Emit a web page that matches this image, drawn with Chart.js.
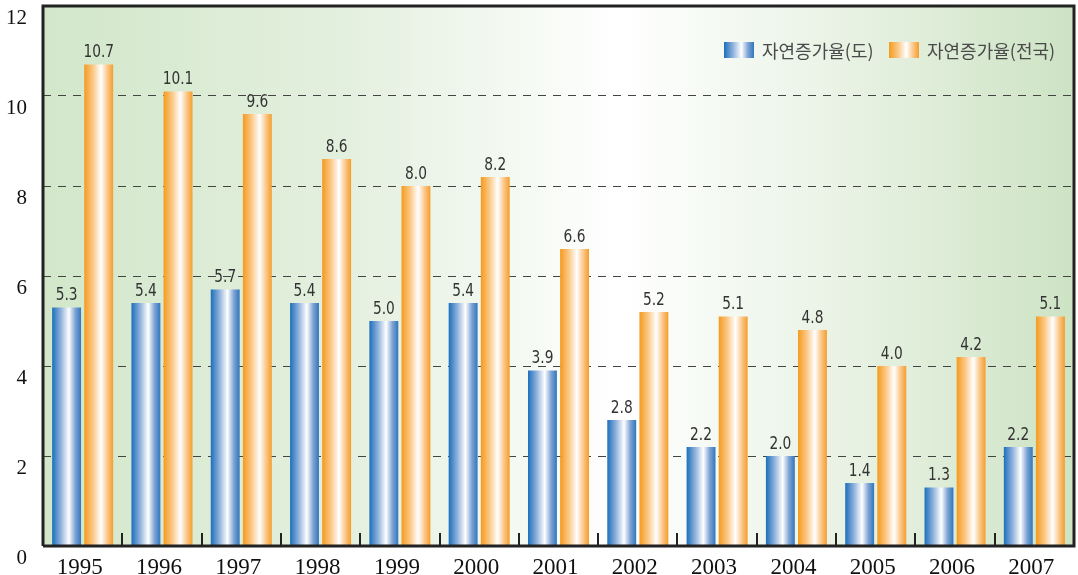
<!DOCTYPE html>
<html>
<head>
<meta charset="utf-8">
<script src="https://cdn.jsdelivr.net/npm/chart.js@4/dist/chart.umd.min.js"></script>
<style>
  html, body { margin: 0; padding: 0; background: #fff; }
  #wrap { width: 1078px; height: 575px; }
</style>
</head>
<body>
<div id="wrap"><canvas id="chart"></canvas></div>
<script>
const years = ['1995','1996','1997','1998','1999','2000','2001','2002','2003','2004','2005','2006','2007'];
const provinceRate = [5.3, 5.4, 5.7, 5.4, 5.0, 5.4, 3.9, 2.8, 2.2, 2.0, 1.4, 1.3, 2.2];
const nationalRate = [10.7, 10.1, 9.6, 8.6, 8.0, 8.2, 6.6, 5.2, 5.1, 4.8, 4.0, 4.2, 5.1];
const seriesNames = ['자연증가율(도)', '자연증가율(전국)'];
const yTicks = [0, 2, 4, 6, 8, 10, 12];

const CAT_PCT = 0.81;
const BAR_PCT = 0.9;

const blueStops = ['#1b6fbb', '#8fb1dc', '#ffffff', '#7ea3d3', '#2f76bd'];
const orangeStops = ['#f59a1e', '#fbc886', '#ffffff', '#fbc78a', '#f59d2a'];

function makeGrad(ctx, x0, x1, stops) {
  const g = ctx.createLinearGradient(x0, 0, x1, 0);
  g.addColorStop(0, stops[0]);
  g.addColorStop(0.3, stops[1]);
  g.addColorStop(0.58, stops[2]);
  g.addColorStop(0.8, stops[3]);
  g.addColorStop(1, stops[4]);
  return g;
}

// gradient spanning each bar, worked out from the x scale
function barGrad(c, stops) {
  const chart = c.chart;
  const xs = chart.scales.x;
  if (!xs || c.dataIndex === undefined) return stops[0];
  const catW = (xs.width / years.length) * CAT_PCT;
  const slot = catW / 2;
  const cx = xs.getPixelForValue(c.dataIndex) - catW / 2 + slot * (c.datasetIndex + 0.5);
  const w = slot * BAR_PCT;
  if (!isFinite(cx) || !isFinite(w) || w <= 0) return stops[0];
  return makeGrad(chart.ctx, cx - w / 2, cx + w / 2, stops);
}

const bgPlugin = {
  id: 'bg',
  beforeDraw(chart) {
    const { ctx, chartArea: a } = chart;
    const g = ctx.createLinearGradient(a.left, 0, a.right, 0);
    g.addColorStop(0, '#d2e7ca');
    g.addColorStop(0.3, '#e4f0df');
    g.addColorStop(0.56, '#ffffff');
    g.addColorStop(0.8, '#e6f1e1');
    g.addColorStop(1, '#cde3c4');
    ctx.save();
    ctx.fillStyle = g;
    ctx.fillRect(a.left, a.top, a.right - a.left, a.bottom - a.top);
    ctx.restore();
  }
};

const framePlugin = {
  id: 'frame',
  afterDatasetsDraw(chart) {
    const { ctx, chartArea: a } = chart;
    ctx.save();
    // value labels, squeezed a bit to look condensed
    ctx.fillStyle = '#333';
    ctx.font = '18px "Liberation Sans Narrow", "DejaVu Sans Condensed", sans-serif';
    ctx.textAlign = 'center';
    ctx.textBaseline = 'bottom';
    chart.data.datasets.forEach((ds, di) => {
      chart.getDatasetMeta(di).data.forEach((el, i) => {
        ctx.save();
        ctx.translate(el.x, el.y - 3);
        ctx.scale(0.85, 1);
        ctx.fillText(ds.data[i].toFixed(1), 0, 0);
        ctx.restore();
      });
    });
    // category ticks inside the plot
    ctx.strokeStyle = '#222';
    ctx.lineWidth = 2;
    const step = (a.right - a.left) / years.length;
    for (let i = 1; i < years.length; i++) {
      const x = Math.round(a.left + step * i);
      ctx.beginPath();
      ctx.moveTo(x, a.bottom);
      ctx.lineTo(x, a.bottom - 13);
      ctx.stroke();
    }
    // frame
    ctx.lineWidth = 3;
    ctx.beginPath();
    ctx.moveTo(a.left, a.bottom);
    ctx.lineTo(a.left, a.top);
    ctx.lineTo(a.right, a.top);
    ctx.lineTo(a.right, a.bottom);
    ctx.lineTo(a.left, a.bottom);
    ctx.stroke();
    ctx.restore();
  }
};

new Chart(document.getElementById('chart'), {
  type: 'bar',
  data: {
    labels: years,
    datasets: [
      {
        label: seriesNames[0],
        data: provinceRate,
        backgroundColor: c => barGrad(c, blueStops),
        categoryPercentage: CAT_PCT,
        barPercentage: BAR_PCT
      },
      {
        label: seriesNames[1],
        data: nationalRate,
        backgroundColor: c => barGrad(c, orangeStops),
        categoryPercentage: CAT_PCT,
        barPercentage: BAR_PCT
      }
    ]
  },
  options: {
    responsive: true,
    maintainAspectRatio: false,
    animation: false,
    layout: { padding: { top: 6, right: 4, left: 0, bottom: 0 } },
    plugins: {
      legend: { display: false },
      tooltip: { enabled: false }
    },
    scales: {
      x: {
        grid: { display: false },
        border: { display: false },
        ticks: {
          color: '#111',
          font: { family: '"Liberation Serif", "DejaVu Serif", serif', size: 23 },
          padding: 0,
          labelOffset: -3
        },
        afterFit(s) { s.height = 29; s.paddingLeft = 0; s.paddingRight = 0; }
      },
      y: {
        min: 0,
        max: 12,
        afterBuildTicks(s) { s.ticks = yTicks.map(v => ({ value: v })); },
        grid: {
          color: c => (c.tick && (c.tick.value === 0 || c.tick.value === 12)) ? 'rgba(0,0,0,0)' : '#444',
          lineWidth: 1,
          drawTicks: false
        },
        border: { display: false, dash: [8, 7] },
        ticks: {
          color: '#111',
          font: { family: '"Liberation Serif", "DejaVu Serif", serif', size: 21 },
          padding: 16,
          labelOffset: 12
        },
        afterFit(s) { s.width = 43; s.paddingTop = 0; s.paddingBottom = 0; }
      }
    }
  },
  plugins: [bgPlugin, framePlugin, {
    id: 'legendBox',
    afterDraw(chart) {
      const ctx = chart.ctx;
      ctx.save();
      ctx.font = '18px "Noto Sans CJK KR", sans-serif';
      ctx.textBaseline = 'middle';
      const items = [
        { x: 724, stops: blueStops, text: seriesNames[0] },
        { x: 889, stops: orangeStops, text: seriesNames[1] }
      ];
      items.forEach(it => {
        ctx.fillStyle = makeGrad(ctx, it.x, it.x + 30, it.stops);
        ctx.fillRect(it.x, 42, 30, 16);
        ctx.fillStyle = '#4a4a4a';
        ctx.fillText(it.text, it.x + 38, 51);
      });
      ctx.restore();
    }
  }]
});
</script>
</body>
</html>
